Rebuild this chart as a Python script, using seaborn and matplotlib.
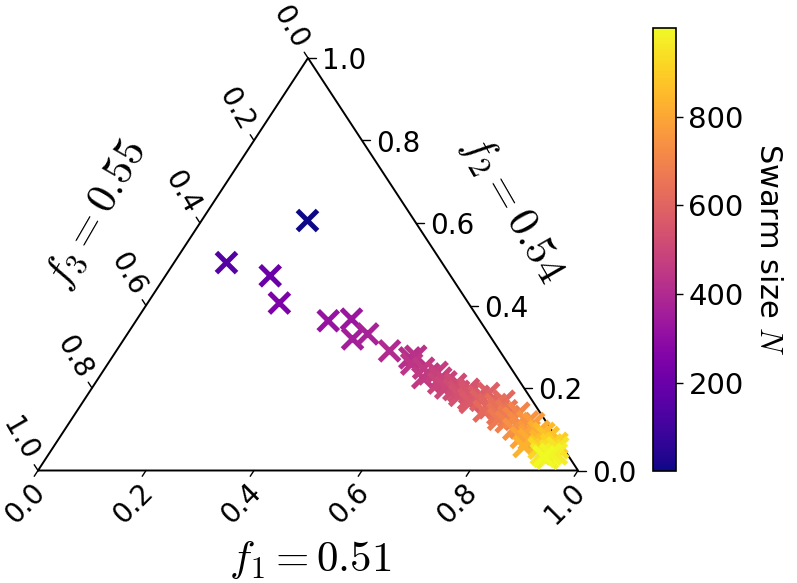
import numpy as np
import pandas as pd
import seaborn as sns
import matplotlib
matplotlib.use('Agg')
import matplotlib.pyplot as plt
from matplotlib.colors import Normalize
from matplotlib.cm import ScalarMappable

# swarm size N and final fractions (f1, f2), f3 = 1 - f1 - f2
swarm_n = [1, 150, 200, 250, 320, 330, 360, 370, 400, 420, 430, 440, 450, 455,
           460, 470, 480, 485, 490, 500, 510, 520, 530, 535, 540, 550, 560, 565,
           570, 580, 590, 600, 605, 610, 620, 630, 640, 650, 660, 670, 680, 690,
           700, 710, 720, 730, 740, 750, 760, 770, 780, 790, 800, 810, 820, 830,
           840, 850, 860, 870, 880, 890, 900, 910, 920, 930, 940, 950, 960, 970,
           980, 990, 1000]
f1 = [0.196, 0.097, 0.194, 0.244, 0.356, 0.397, 0.423, 0.445, 0.506, 0.552, 0.561,
      0.563, 0.590, 0.600, 0.607, 0.620, 0.634, 0.648, 0.636, 0.655, 0.669, 0.672,
      0.683, 0.690, 0.699, 0.705, 0.711, 0.718, 0.726, 0.741, 0.735, 0.754, 0.760,
      0.779, 0.754, 0.768, 0.779, 0.783, 0.795, 0.791, 0.806, 0.808, 0.821, 0.818,
      0.834, 0.842, 0.831, 0.848, 0.862, 0.861, 0.868, 0.855, 0.889, 0.872, 0.880,
      0.871, 0.895, 0.892, 0.911, 0.905, 0.900, 0.915, 0.928, 0.920, 0.901, 0.932,
      0.925, 0.935, 0.912, 0.940, 0.928, 0.930, 0.920]
f2 = [0.606, 0.504, 0.472, 0.406, 0.363, 0.367, 0.319, 0.331, 0.290, 0.273, 0.277,
      0.258, 0.248, 0.225, 0.234, 0.238, 0.224, 0.215, 0.212, 0.200, 0.209, 0.196,
      0.192, 0.182, 0.197, 0.188, 0.173, 0.165, 0.180, 0.187, 0.170, 0.161, 0.152,
      0.168, 0.144, 0.160, 0.148, 0.137, 0.145, 0.124, 0.131, 0.118, 0.139, 0.127,
      0.114, 0.103, 0.100, 0.118, 0.095, 0.114, 0.085, 0.080, 0.078, 0.075, 0.095,
      0.058, 0.072, 0.090, 0.063, 0.080, 0.060, 0.052, 0.066, 0.062, 0.054, 0.046,
      0.048, 0.055, 0.040, 0.040, 0.030, 0.039, 0.034]
tick_vals = [0.0, 0.2, 0.4, 0.6, 0.8, 1.0]
cbar_ticks = [200, 400, 600, 800]
n_range = (1, 1000)
label_f1 = '$f_1 = 0.51$'
label_f2 = '$f_2 = 0.54$'
label_f3 = '$f_3 = 0.55$'

sns.set_style('white')
plt.rcParams['font.family'] = ['DejaVu Sans']
plt.rcParams['mathtext.fontset'] = 'cm'
plt.rcParams['text.color'] = 'black'
plt.rcParams['axes.labelcolor'] = 'black'
plt.rcParams['ytick.color'] = 'black'

h = np.sqrt(3) / 2
df = pd.DataFrame({'N': swarm_n, 'f1': f1, 'f2': f2})
df['f3'] = 1 - df['f1'] - df['f2']
df['x'] = df['f1'] + df['f2'] / 2   # ternary -> cartesian
df['y'] = df['f2'] * h

W, H = 797, 583
fig = plt.figure(figsize=(W / 100, H / 100), dpi=100)
ax = fig.add_axes([38 / W, 112.5 / H, 540 / W, 412.5 / H])
ax.set_xlim(0, 1)
ax.set_ylim(0, h)
ax.axis('off')

# triangle frame
corners = np.array([[0, 0], [1, 0], [0.5, h], [0, 0]])
ax.plot(corners[:, 0], corners[:, 1], color='black', lw=1.4, clip_on=False, zorder=1)

sns.scatterplot(data=df, x='x', y='y', hue='N', palette='plasma', hue_norm=n_range,
                marker='x', s=210, linewidth=3.6, legend=False, ax=ax, clip_on=False, zorder=3)

off = 0.014
fs_tick = 20
for v in tick_vals:
    # bottom axis (f1)
    bx, by = v, 0
    ax.plot([bx, bx - off / 2], [by, by - off * h], color='black', lw=1, clip_on=False)
    ax.annotate(f'{v:.1f}', xy=(bx, by), xytext=(-9.4, -23.8), textcoords='offset points',
                ha='center', va='center', rotation=45, fontsize=fs_tick)
    # right axis (f2)
    rx, ry = 1 - v / 2, v * h
    ax.plot([rx, rx + off], [ry, ry], color='black', lw=1, clip_on=False)
    ax.annotate(f'{v:.1f}', xy=(rx, ry), xytext=(10, -2.5), textcoords='offset points',
                ha='left', va='center', fontsize=fs_tick)
    # left axis (f3), 0 at top
    lx, ly = (1 - v) / 2, (1 - v) * h
    ax.plot([lx, lx - off / 2], [ly, ly + off * h], color='black', lw=1, clip_on=False)
    ax.annotate(f'{v:.1f}', xy=(lx, ly), xytext=(-13, 22.3), textcoords='offset points',
                ha='center', va='center', rotation=-60, fontsize=fs_tick)

fs_lab = 31
fig.text(310 / W, 1 - 560 / H, label_f1, ha='center', va='center', fontsize=fs_lab)
fig.text(512 / W, 1 - 209 / H, label_f2, ha='center', va='center', fontsize=fs_lab, rotation=-60)
fig.text(97 / W, 1 - 215 / H, label_f3, ha='center', va='center', fontsize=fs_lab, rotation=60)

cax = fig.add_axes([653 / W, 112 / H, 23 / W, 443 / H])
sm = ScalarMappable(norm=Normalize(*n_range), cmap='plasma')
cb = fig.colorbar(sm, cax=cax, ticks=cbar_ticks)
cax.tick_params(right=True, length=5, width=1, labelsize=21, pad=4, colors='black')
cb.outline.set_linewidth(1.2)
cb.outline.set_edgecolor('black')
cb.set_label('Swarm size $N$', rotation=270, fontsize=22, labelpad=28, color='black')

fig.savefig('out.png', dpi=100)
